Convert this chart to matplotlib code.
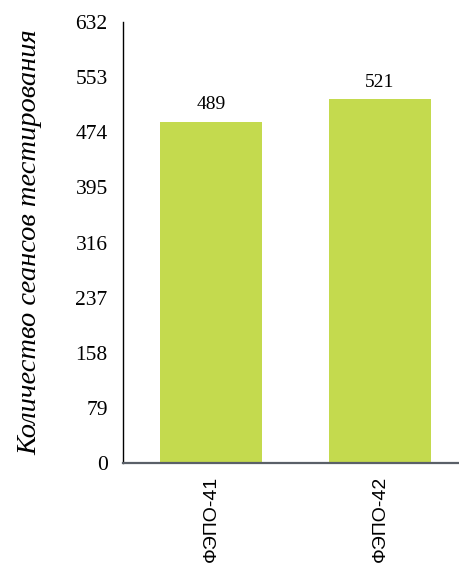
import matplotlib
matplotlib.use("Agg")
import matplotlib.pyplot as plt

# data
groups = ["ФЭПО-41", "ФЭПО-42"]
sessions = [489, 521]
y_ticks = [0, 79, 158, 237, 316, 395, 474, 553, 632]

bar_color = "#c4da4e"

fig = plt.figure(figsize=(4.59, 5.69), dpi=100)
ax = fig.add_axes([0.268, 0.1863, 0.732, 0.775])

x = list(range(len(groups)))
bars = ax.bar(x, sessions, width=0.60, color=bar_color, zorder=2)

# value labels above bars
for b, v in zip(bars, sessions):
    ax.text(b.get_x() + b.get_width() / 2, v + 25, str(v),
            ha="center", va="center", fontsize=14, family="Liberation Serif")

ax.set_ylim(0, 632)
ax.set_xlim(-0.52, 1.467)
ax.set_yticks(y_ticks)
ax.set_yticklabels([str(t) for t in y_ticks], family="Liberation Serif", fontsize=15.5)
ax.tick_params(axis="y", length=0, pad=11)

ax.set_xticks(x)
ax.set_xticklabels(groups, rotation=90, family="Liberation Sans", fontsize=14, va="top")
ax.tick_params(axis="x", length=0, pad=9)

for s in ["top", "right"]:
    ax.spines[s].set_visible(False)
ax.spines["left"].set_color("black")
ax.spines["left"].set_linewidth(1.0)
ax.spines["bottom"].set_color("#5a6068")
ax.spines["bottom"].set_linewidth(1.6)

ax.set_ylabel("Количество сеансов тестирования", family="Liberation Serif",
              style="italic", fontsize=20.5)
ax.yaxis.set_label_coords(-0.24, 0.5)

fig.savefig("out.png", dpi=100)
